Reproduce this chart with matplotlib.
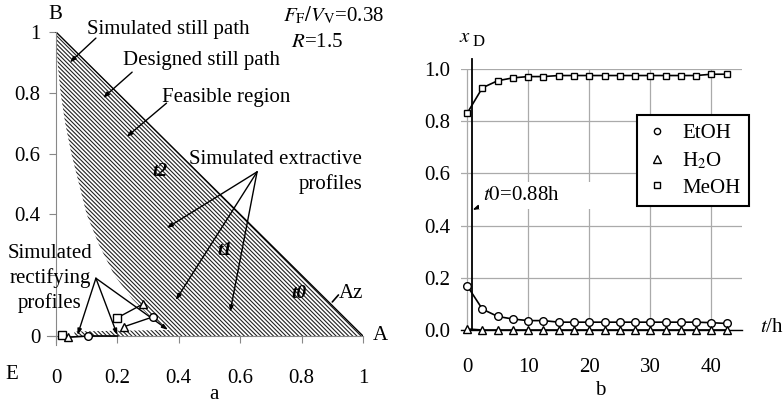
import numpy as np
import matplotlib
matplotlib.use("Agg")
import matplotlib.pyplot as plt
from matplotlib.lines import Line2D

plt.rcParams['font.family'] = 'serif'
plt.rcParams['font.serif'] = ['Liberation Serif', 'DejaVu Serif']
plt.rcParams['mathtext.fontset'] = 'stix'
plt.rcParams['hatch.linewidth'] = 0.8

# --- panel a: feasible region (still path boundary)
still_x = [0.0, 0.005, 0.015, 0.03, 0.05, 0.075, 0.10, 0.14, 0.19, 0.25, 0.30, 0.34, 0.37]
still_y = [1.0, 0.90, 0.80, 0.70, 0.60, 0.50, 0.40, 0.30, 0.20, 0.12, 0.07, 0.04, 0.02]
strip_x = [0.06, 0.06]
strip_y = [0.015, 0.0]

# simulated rectifying profiles
rect0_x = [0.02, 0.04, 0.105, 0.20]
rect0_y = [0.003, -0.004, 0.0, 0.0]
rect1_x = [0.20, 0.283]
rect1_y = [0.06, 0.105]
rect2_x = [0.22, 0.316]
rect2_y = [0.03, 0.063]

# --- panel b: distillate composition vs time
t = [0, 2.5, 5, 7.5, 10, 12.5, 15, 17.5, 20, 22.5, 25, 27.5, 30, 32.5, 35, 37.5, 40, 42.5]
meoh = [0.83, 0.928, 0.955, 0.966, 0.971, 0.971, 0.975, 0.975, 0.975, 0.975,
        0.975, 0.975, 0.975, 0.975, 0.975, 0.975, 0.98, 0.98]
etoh = [0.17, 0.08, 0.052, 0.042, 0.036, 0.036, 0.03, 0.03, 0.03, 0.03,
        0.03, 0.03, 0.03, 0.03, 0.03, 0.03, 0.028, 0.025]
h2o = [0.004, 0.0, 0.0, 0.0, 0.0, 0.0, 0.0, 0.0, 0.0, 0.0,
       0.0, 0.0, 0.0, 0.0, 0.0, 0.0, 0.0, 0.0]
t0 = 0.88

fig = plt.figure(figsize=(7.84, 4.12), dpi=100)
W, H = 784, 412

fs = 15
grey = '#888888'
arrow = dict(arrowstyle='-|>,head_length=0.35,head_width=0.12', color='black', lw=1.0,
             shrinkA=0, shrinkB=0)

#
# Panel a
#
ax1 = fig.add_axes([56 / W - 0.03 * 307 / W, (412 - 336) / H - 0.03 * 304 / H,
                    1.03 * 307 / W, 1.03 * 304 / H])
ax1.set_xlim(-0.03, 1.0)
ax1.set_ylim(-0.03, 1.0)
for s in ['top', 'right']:
    ax1.spines[s].set_visible(False)
for s in ['left', 'bottom']:
    ax1.spines[s].set_position(('data', 0))
    ax1.spines[s].set_color(grey)
    ax1.spines[s].set_linewidth(0.8)
ax1.spines['left'].set_bounds(-0.03, 1.0)
ax1.spines['bottom'].set_bounds(-0.03, 1.0)
ax1.set_xticks([0, 0.2, 0.4, 0.6, 0.8, 1])
ax1.set_xticklabels(['0', '0.2', '0.4', '0.6', '0.8', '1'])
ax1.set_yticks([0, 0.2, 0.4, 0.6, 0.8, 1])
# the 0.2 label is hidden behind the "Simulated rectifying profiles" note
ax1.set_yticklabels(['0', '', '0.4', '0.6', '0.8', '1'])
ax1.tick_params(axis='x', direction='out', length=5, color=grey, pad=19, labelsize=fs)
ax1.tick_params(axis='y', direction='out', length=5, color=grey, pad=6, labelsize=fs)

px = still_x + strip_x + [1.0]
py = still_y + strip_y + [0.0]
ax1.fill(px, py, facecolor='white', edgecolor='#222222', hatch='\\' * 8, lw=0, zorder=1)
ax1.plot([0, 1], [1, 0], color='black', lw=1.0, zorder=2)

mk = dict(mfc='white', mec='black', mew=1.0, ms=5.5, clip_on=False, zorder=5)
ax1.plot(rect0_x, rect0_y, color='black', lw=1.2, zorder=4, clip_on=False)
ax1.plot(rect1_x, rect1_y, color='black', lw=1.0, zorder=4)
ax1.plot(rect2_x, rect2_y, color='black', lw=1.0, zorder=4)
ax1.plot(rect0_x[0], rect0_y[0], 's', **mk)
ax1.plot(rect0_x[1], rect0_y[1], '^', **mk)
ax1.plot(rect0_x[2], rect0_y[2], 'o', **mk)
ax1.plot(rect1_x[0], rect1_y[0], 's', **mk)
ax1.plot(rect1_x[1], rect1_y[1], '^', **mk)
ax1.plot(rect2_x[0], rect2_y[0], '^', **mk)
ax1.plot(rect2_x[1], rect2_y[1], 'o', **mk)

tk = dict(fontsize=fs, zorder=6)
ax1.text(0.10, 1.007, 'Simulated still path', ha='left', va='center', **tk)
ax1.annotate('', xy=(0.045, 0.90), xytext=(0.13, 0.98), arrowprops=arrow)
ax1.text(0.218, 0.905, 'Designed still path', ha='left', va='center', **tk)
ax1.annotate('', xy=(0.153, 0.783), xytext=(0.248, 0.868), arrowprops=arrow)
ax1.text(0.345, 0.783, 'Feasible region', ha='left', va='center', **tk)
ax1.annotate('', xy=(0.23, 0.655), xytext=(0.36, 0.766), arrowprops=arrow)

ax1.text(0.997, 0.54, 'Simulated extractive\nprofiles', ha='right', va='center',
         multialignment='right', linespacing=1.35, **tk)
hub = (0.655, 0.54)
for end in [(0.36, 0.355), (0.39, 0.118), (0.567, 0.079)]:
    ax1.annotate('', xy=end, xytext=hub, arrowprops=arrow)

ax1.text(-0.02, 0.19, 'Simulated\nrectifying\nprofiles', ha='center', va='center',
         linespacing=1.35, clip_on=False, **tk)
hub2 = (0.13, 0.19)
for end in [(0.07, 0.003), (0.2, 0.003), (0.365, 0.02)]:
    ax1.annotate('', xy=end, xytext=hub2, arrowprops=arrow)

tb = dict(fontsize=14, fontweight='bold', fontstyle='italic', ha='center', va='center', zorder=6)
ax1.text(0.34, 0.54, 't2', **tb)
ax1.text(0.55, 0.28, 't1', **tb)
ax1.text(0.79, 0.14, 't0', **tb)
ax1.text(0.92, 0.141, 'Az', ha='left', va='center', **tk)
ax1.annotate('', xy=(0.90, 0.112), xytext=(0.92, 0.135),
             arrowprops=dict(arrowstyle='-', color='black', lw=1.2, shrinkA=0, shrinkB=0))

ax1.text(0.905, 1.056, r'$F_{\rm F}/V_{\rm V}$=0.38', ha='center', va='center', **tk)
ax1.text(0.85, 0.964, r'$R$=1.5', ha='center', va='center', **tk)
ax1.text(-0.003, 1.056, 'B', ha='center', va='center', clip_on=False, **tk)
ax1.text(1.055, 0.0, 'A', ha='center', va='center', clip_on=False, **tk)
ax1.text(-0.143, -0.128, 'E', ha='center', va='center', clip_on=False, **tk)
ax1.text(0.515, -0.194, 'a', ha='center', va='center', clip_on=False, **tk)

#
# Panel b
#
ax2 = fig.add_axes([461 / W, (412 - 330) / H, 281 / W, 261 / H])
ax2.set_xlim(-1, 45)
ax2.set_ylim(0, 1.0)
for s in ['top', 'right', 'left']:
    ax2.spines[s].set_visible(False)
ax2.spines['bottom'].set_linewidth(1.0)
ax2.set_xticks([0, 10, 20, 30, 40])
ax2.set_yticks([0, 0.2, 0.4, 0.6, 0.8, 1.0])
ax2.set_yticklabels(['0.0', '0.2', '0.4', '0.6', '0.8', '1.0'])
ax2.tick_params(axis='x', length=0, pad=20, labelsize=fs)
ax2.tick_params(axis='y', length=0, pad=8, labelsize=fs)
ax2.grid(True, color='#aaaaaa', lw=0.9)
ax2.set_axisbelow(True)

mk2 = dict(mfc='white', mec='black', mew=1.0, color='black', lw=1.2, clip_on=False, zorder=4)
ax2.plot(t, meoh, marker='s', ms=5, **mk2)
ax2.plot(t, etoh, marker='o', ms=5.5, **mk2)
ax2.plot(t, h2o, marker='^', ms=5.5, **mk2)
ax2.plot([t0, t0], [0, 1.04], color='black', lw=1.3, clip_on=False, zorder=3)

ax2.text(2.6, 0.515, r'$\mathit{t0}$=0.88h        ', ha='left', va='center', fontsize=fs,
         bbox=dict(facecolor='white', edgecolor='none', pad=3), zorder=3.5)
ax2.annotate('', xy=(t0, 0.46), xytext=(3.7, 0.49), arrowprops=arrow)

handles = [Line2D([], [], ls='none', marker='o', ms=4.5, mfc='white', mec='black'),
           Line2D([], [], ls='none', marker='^', ms=6, mfc='white', mec='black'),
           Line2D([], [], ls='none', marker='s', ms=5, mfc='white', mec='black')]
leg = ax2.legend(handles, ['EtOH', r'H$_2$O', 'MeOH'], loc='upper right',
                 bbox_to_anchor=(1.025, 0.824), borderaxespad=0, fontsize=fs,
                 fancybox=False, framealpha=1, edgecolor='black', handlelength=1.2,
                 handletextpad=0.6, labelspacing=0.35, borderpad=0.4)
leg.get_frame().set_linewidth(1.5)
leg.set_zorder(6)

ax2.text(-0.3, 1.12, r'$x$', ha='center', va='center', fontsize=fs, clip_on=False)
ax2.text(1.8, 1.105, 'D', ha='center', va='center', fontsize=12, clip_on=False)
ax2.text(48, 0.01, r'$t$/h', ha='left', va='center', fontsize=fs, clip_on=False)
ax2.text(21.8, -0.23, 'b', ha='center', va='center', fontsize=fs, clip_on=False)

fig.savefig('out.png', dpi=100)
